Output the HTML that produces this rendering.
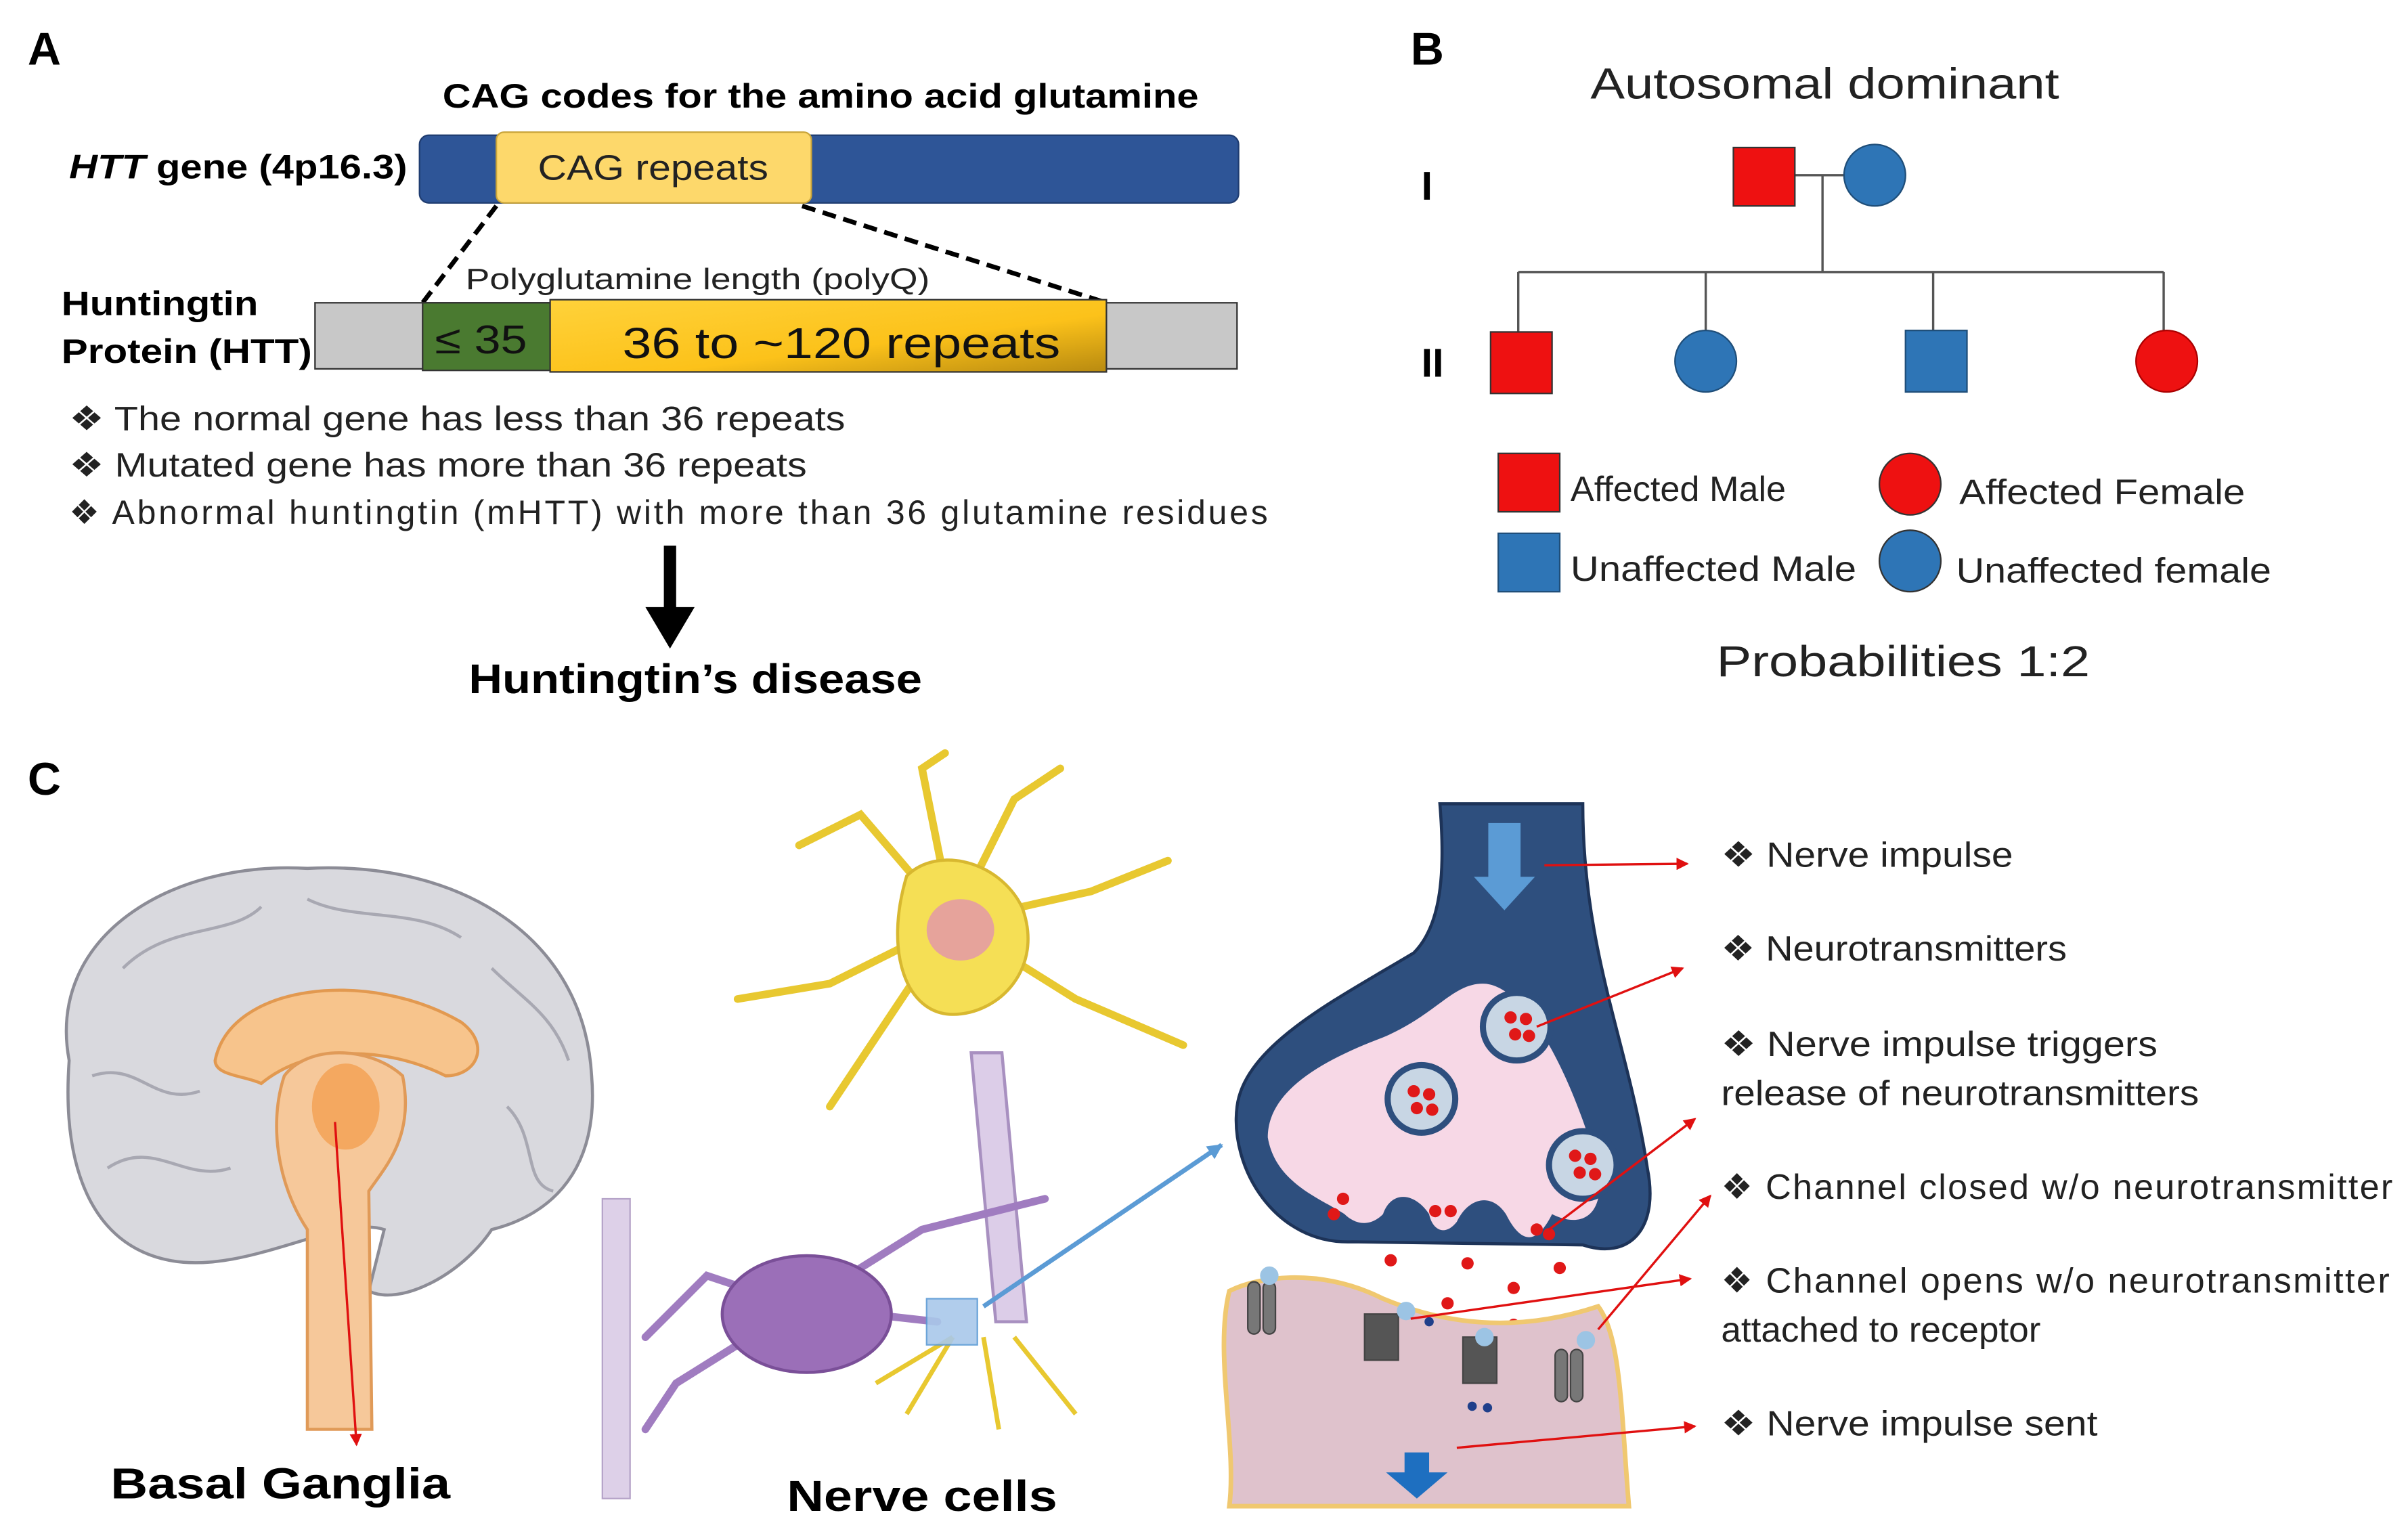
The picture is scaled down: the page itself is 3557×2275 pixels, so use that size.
<!DOCTYPE html>
<html><head><meta charset="utf-8"><style>html,body{margin:0;padding:0;background:#fff}svg{display:block}text{font-family:"Liberation Sans",Arial,sans-serif}</style></head>
<body>
<svg width="3557" height="2275" viewBox="0 0 1567 1002" preserveAspectRatio="none" xmlns="http://www.w3.org/2000/svg">
<defs>
<linearGradient id="yg" x1="0" y1="0" x2="1" y2="1"><stop offset="0" stop-color="#ffd23a"/><stop offset="0.6" stop-color="#fcc21a"/><stop offset="1" stop-color="#b88a10"/></linearGradient>
<marker id="ra" markerWidth="8" markerHeight="8" refX="7" refY="4" orient="auto" markerUnits="userSpaceOnUse"><path d="M0,0 L8,4 L0,8z" fill="#e01010"/></marker>
<marker id="ba" markerWidth="10" markerHeight="10" refX="9" refY="5" orient="auto" markerUnits="userSpaceOnUse"><path d="M0,0 L10,5 L0,10z" fill="#5b9bd5"/></marker>
</defs>
<!-- Panel A -->
<text x="18" y="42" font-size="30" font-weight="bold">A</text>
<text x="288" y="70" font-size="22" font-weight="bold" textLength="492" lengthAdjust="spacingAndGlyphs">CAG codes for the amino acid glutamine</text>
<text x="45" y="116" font-size="22" font-weight="bold" textLength="220" lengthAdjust="spacingAndGlyphs"><tspan font-style="italic">HTT</tspan> gene (4p16.3)</text>
<rect x="273" y="88" width="533" height="44" rx="6" fill="#2e5597" stroke="#1f3c70"/>
<rect x="323" y="86" width="205" height="46" rx="5" fill="#fdd86b" stroke="#c9a43a"/>
<text x="350" y="117" font-size="23" fill="#222" textLength="150" lengthAdjust="spacingAndGlyphs">CAG repeats</text>
<line x1="323" y1="134" x2="275" y2="197" stroke="#000" stroke-width="3" stroke-dasharray="9,5"/>
<line x1="522" y1="134" x2="720" y2="197" stroke="#000" stroke-width="3" stroke-dasharray="9,5"/>
<text x="303" y="188" font-size="19" fill="#222" textLength="302" lengthAdjust="spacingAndGlyphs">Polyglutamine length (polyQ)</text>
<text x="40" y="205" font-size="22" font-weight="bold" textLength="128" lengthAdjust="spacingAndGlyphs">Huntingtin</text>
<text x="40" y="236" font-size="22" font-weight="bold" textLength="163" lengthAdjust="spacingAndGlyphs">Protein (HTT)</text>
<rect x="205" y="197" width="600" height="43" fill="#c8c8c8" stroke="#333"/>
<rect x="275" y="197" width="83" height="44" fill="#4a7a30" stroke="#333"/>
<rect x="358" y="195" width="362" height="47" fill="url(#yg)" stroke="#333"/>
<text x="283" y="230" font-size="26" fill="#111" textLength="60" lengthAdjust="spacingAndGlyphs">≤ 35</text>
<text x="405" y="233" font-size="28" fill="#111" textLength="285" lengthAdjust="spacingAndGlyphs">36   to   ~120 repeats</text>
<g font-size="22" fill="#222">
<text x="45" y="280" textLength="505" lengthAdjust="spacingAndGlyphs">❖ The normal gene has less than 36 repeats</text>
<text x="45" y="310" textLength="480" lengthAdjust="spacingAndGlyphs">❖ Mutated gene has more than 36 repeats</text>
<text x="45" y="341" textLength="780">❖ Abnormal huntingtin (mHTT) with more than 36 glutamine residues</text>
</g>
<rect x="432" y="355" width="8" height="42" fill="#000"/>
<path d="M420,395 L452,395 L436,422z" fill="#000"/>
<text x="305" y="451" font-size="27" font-weight="bold" textLength="295" lengthAdjust="spacingAndGlyphs">Huntingtin’s disease</text>
<!-- Panel B -->
<text x="918" y="42" font-size="30" font-weight="bold">B</text>
<text x="1035" y="64" font-size="28" fill="#222" textLength="305" lengthAdjust="spacingAndGlyphs">Autosomal  dominant</text>
<text x="925" y="130" font-size="26" font-weight="bold">I</text>
<text x="925" y="245" font-size="26" font-weight="bold">II</text>
<g stroke="#555" stroke-width="1.5" fill="none">
<line x1="1168" y1="114" x2="1200" y2="114"/>
<line x1="1186" y1="114" x2="1186" y2="177"/>
<line x1="988" y1="177" x2="1408" y2="177"/>
<line x1="988" y1="177" x2="988" y2="216"/>
<line x1="1110" y1="177" x2="1110" y2="215"/>
<line x1="1258" y1="177" x2="1258" y2="215"/>
<line x1="1408" y1="177" x2="1408" y2="215"/>
</g>
<rect x="1128" y="96" width="40" height="38" fill="#ee1111" stroke="#333"/>
<circle cx="1220" cy="114" r="20" fill="#2e75b6" stroke="#1f4e79"/>
<rect x="970" y="216" width="40" height="40" fill="#ee1111" stroke="#333"/>
<circle cx="1110" cy="235" r="20" fill="#2e75b6" stroke="#1f4e79"/>
<rect x="1240" y="215" width="40" height="40" fill="#2e75b6" stroke="#1f4e79"/>
<circle cx="1410" cy="235" r="20" fill="#ee1111" stroke="#a00"/>
<rect x="975" y="295" width="40" height="38" fill="#ee1111" stroke="#333"/>
<rect x="975" y="347" width="40" height="38" fill="#2e75b6" stroke="#1f4e79"/>
<circle cx="1243" cy="315" r="20" fill="#ee1111" stroke="#333"/>
<circle cx="1243" cy="365" r="20" fill="#2e75b6" stroke="#333"/>
<g font-size="23" fill="#222">
<text x="1022" y="326">Affected Male</text>
<text x="1022" y="378" textLength="186" lengthAdjust="spacingAndGlyphs">Unaffected Male</text>
<text x="1275" y="328" textLength="186" lengthAdjust="spacingAndGlyphs">Affected Female</text>
<text x="1273" y="379" textLength="205" lengthAdjust="spacingAndGlyphs">Unaffected female</text>
</g>
<text x="1117" y="440" font-size="28" fill="#222" textLength="243" lengthAdjust="spacingAndGlyphs">Probabilities  1:2</text>
<!-- Panel C -->
<text x="18" y="517" font-size="30" font-weight="bold">C</text>
<!-- brain -->
<path d="M45,690 C30,610 110,560 200,565 C300,560 380,610 385,700 C390,760 360,790 320,800 C300,830 260,850 240,840 L250,800 C220,790 160,830 110,820 C60,810 40,760 45,690z" fill="#d9d9de" stroke="#8c8c96" stroke-width="2"/>
<g stroke="#a8a8b2" stroke-width="2" fill="none">
<path d="M80,630 C110,600 150,610 170,590 M200,585 C230,600 270,590 300,610 M320,630 C340,650 360,660 370,690 M60,700 C90,690 100,720 130,710 M70,760 C100,740 120,770 150,760 M330,720 C350,740 340,770 360,775"/>
</g>
<path d="M140,690 C150,640 240,630 300,665 C320,680 310,700 290,700 C250,680 200,680 170,705 C160,700 140,700 140,690z" fill="#f7c48c" stroke="#e29950" stroke-width="2"/>
<path d="M185,700 C200,680 240,680 262,700 C270,740 250,760 240,775 L242,930 L200,930 L200,800 C180,770 175,730 185,700z" fill="#f6c89a" stroke="#e09a58" stroke-width="2"/>
<ellipse cx="225" cy="720" rx="22" ry="28" fill="#f4a860"/>
<line x1="218" y1="730" x2="232" y2="940" stroke="#e01010" stroke-width="1.5" marker-end="url(#ra)"/>
<text x="72" y="975" font-size="28" font-weight="bold" textLength="221" lengthAdjust="spacingAndGlyphs">Basal Ganglia</text>
<!-- neurons -->
<path d="M392,780 L410,780 L410,975 L392,975z" fill="#ddd0e8" stroke="#b5a3c8"/>
<g stroke="#e8c830" stroke-width="5" fill="none" stroke-linecap="round">
<path d="M620,600 L560,530 L520,550 M620,600 L600,500 L615,490 M620,600 L660,520 L690,500 M620,600 L710,580 L760,560 M620,600 L700,650 L770,680 M620,600 L540,640 L480,650 M620,600 L560,690 L540,720"/>
</g>
<path d="M590,570 C610,550 650,560 665,590 C680,630 650,660 620,660 C590,660 575,620 590,570z" fill="#f5df55" stroke="#d8b830" stroke-width="2"/>
<ellipse cx="625" cy="605" rx="22" ry="20" fill="#e6a39b"/>
<path d="M632,685 L652,685 L668,860 L648,860z" fill="#dccde8" stroke="#a890c0" stroke-width="2"/>
<g stroke="#a07cc0" stroke-width="5" fill="none" stroke-linecap="round">
<path d="M520,850 L460,830 L420,870 M520,850 L440,900 L420,930 M520,850 L600,800 L680,780 M520,850 L610,860"/>
</g>
<ellipse cx="525" cy="855" rx="55" ry="38" fill="#9b6fb8" stroke="#7a4f98" stroke-width="2"/>
<g stroke="#e8c830" stroke-width="3" fill="none"><path d="M620,870 L590,920 M640,870 L650,930 M660,870 L700,920 M620,870 L570,900"/></g>
<rect x="603" y="845" width="33" height="30" fill="#a9c8ea" stroke="#5b9bd5" opacity="0.9"/>
<line x1="640" y1="850" x2="795" y2="745" stroke="#5b9bd5" stroke-width="3" marker-end="url(#ba)"/>
<text x="512" y="983" font-size="28" font-weight="bold" textLength="176" lengthAdjust="spacingAndGlyphs">Nerve cells</text>
<!-- synapse -->
<path d="M937,523 L1030,523 C1030,620 1060,680 1072,760 C1080,800 1060,820 1030,810 L880,808 C830,810 800,760 805,720 C810,680 870,650 920,620 C940,600 940,560 937,523z" fill="#2e4f7e" stroke="#1d3358" stroke-width="2"/>
<path d="M965,640 C990,640 1020,690 1040,760 C1045,790 1030,800 1010,790 C1000,810 990,810 980,790 C970,775 955,780 948,795 C940,805 932,800 930,790 C920,775 905,775 900,790 C890,800 880,795 875,790 C860,780 830,770 825,740 C825,710 860,690 900,675 C935,660 945,640 965,640z" fill="#f7d8e6"/>
<path d="M968,535 L990,535 L990,570 L1000,570 L979,593 L958,570 L968,570z" fill="#5b9bd5" stroke="#2e4f7e"/>
<g fill="#c8d6e4" stroke="#2e4f7e" stroke-width="4">
<circle cx="987" cy="668" r="22"/><circle cx="925" cy="715" r="22"/><circle cx="1030" cy="758" r="22"/>
</g>
<g fill="#e01818">
<circle cx="983" cy="662" r="4"/><circle cx="993" cy="663" r="4"/><circle cx="986" cy="673" r="4"/><circle cx="995" cy="674" r="4"/>
<circle cx="920" cy="710" r="4"/><circle cx="930" cy="712" r="4"/><circle cx="922" cy="721" r="4"/><circle cx="932" cy="722" r="4"/>
<circle cx="1025" cy="752" r="4"/><circle cx="1035" cy="754" r="4"/><circle cx="1028" cy="763" r="4"/><circle cx="1038" cy="764" r="4"/>
<circle cx="874" cy="780" r="4"/><circle cx="868" cy="790" r="4"/><circle cx="934" cy="788" r="4"/><circle cx="944" cy="788" r="4"/>
<circle cx="1000" cy="800" r="4"/><circle cx="1008" cy="803" r="4"/><circle cx="905" cy="820" r="4"/><circle cx="955" cy="822" r="4"/>
<circle cx="985" cy="838" r="4"/><circle cx="1015" cy="825" r="4"/><circle cx="942" cy="848" r="4"/><circle cx="985" cy="862" r="4"/>
</g>
<path d="M800,840 C820,830 860,825 900,845 C960,870 1010,860 1040,850 C1055,870 1055,920 1060,980 L800,980 C805,940 790,880 800,840z" fill="#dfc2cc" stroke="#f0c870" stroke-width="3"/>
<g fill="#777" stroke="#444">
<rect x="812" y="834" width="8" height="34" rx="4"/><rect x="822" y="834" width="8" height="34" rx="4"/>
<rect x="888" y="855" width="22" height="30" fill="#555"/><rect x="952" y="870" width="22" height="30" fill="#555"/>
<rect x="1012" y="878" width="8" height="34" rx="4"/><rect x="1022" y="878" width="8" height="34" rx="4"/>
</g>
<g fill="#9cc4e4"><circle cx="826" cy="830" r="6"/><circle cx="915" cy="853" r="6"/><circle cx="966" cy="870" r="6"/><circle cx="1032" cy="872" r="6"/></g>
<g fill="#1f3f8a"><circle cx="958" cy="915" r="3"/><circle cx="968" cy="916" r="3"/><circle cx="930" cy="860" r="3"/></g>
<path d="M914,945 L930,945 L930,958 L942,958 L922,975 L902,958 L914,958z" fill="#1e6fc0"/>
<g stroke="#e01010" stroke-width="1.5" marker-end="url(#ra)">
<line x1="1005" y1="563" x2="1098" y2="562"/>
<line x1="1000" y1="668" x2="1095" y2="630"/>
<line x1="1008" y1="800" x2="1103" y2="728"/>
<line x1="1040" y1="865" x2="1113" y2="778"/>
<line x1="918" y1="858" x2="1100" y2="832"/>
<line x1="948" y1="942" x2="1103" y2="928"/>
</g>
<g font-size="23" fill="#222">
<text x="1120" y="564" textLength="190" lengthAdjust="spacingAndGlyphs">❖ Nerve impulse</text>
<text x="1120" y="625" textLength="225" lengthAdjust="spacingAndGlyphs">❖ Neurotransmitters</text>
<text x="1120" y="687" textLength="284" lengthAdjust="spacingAndGlyphs">❖ Nerve impulse triggers</text>
<text x="1120" y="719" textLength="311" lengthAdjust="spacingAndGlyphs">release of neurotransmitters</text>
<text x="1120" y="780" textLength="437">❖ Channel closed w/o neurotransmitter</text>
<text x="1120" y="841" textLength="435">❖ Channel opens w/o neurotransmitter</text>
<text x="1120" y="873" textLength="208" lengthAdjust="spacingAndGlyphs">attached to receptor</text>
<text x="1120" y="934" textLength="245" lengthAdjust="spacingAndGlyphs">❖ Nerve impulse sent</text>
</g>
</svg>
</body></html>
